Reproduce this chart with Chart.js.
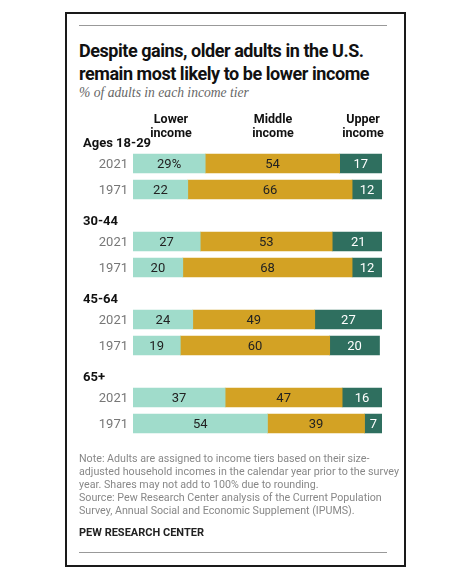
<!DOCTYPE html>
<html>
<head>
<meta charset="utf-8">
<script src="https://cdn.jsdelivr.net/npm/chart.js@4.4.1/dist/chart.umd.min.js"></script>
<style>
  html, body { margin: 0; padding: 0; background: #fff; }
  body { width: 474px; height: 574px; position: relative; overflow: hidden; font-family: Roboto, "Liberation Sans", sans-serif; }
  .frame { position: absolute; left: 65px; top: 12px; width: 337px; height: 551px; border: 2px solid #1a1a1a; }
  .rule { position: absolute; left: 79px; width: 308px; height: 0; border-top: 1px solid #999; }
  .title { position: absolute; left: 79px; top: 38.5px; font-weight: 700; font-size: 18px; letter-spacing: -0.45px; line-height: 23px; color: #111; white-space: nowrap; }
  .sub { position: absolute; left: 79px; top: 85px; font-family: "Liberation Serif", serif; font-style: italic; font-size: 13.6px; color: #666; white-space: nowrap; }
  .note { position: absolute; left: 79px; top: 452px; font-size: 10.7px; line-height: 13px; color: #888; white-space: nowrap; }
  .pew { position: absolute; left: 79px; top: 526px; font-size: 11px; font-weight: 700; color: #222; }
  canvas { position: absolute; left: 0; top: 0; }
</style>
</head>
<body>
<div class="frame"></div>
<div class="rule" style="top:25px"></div>
<div class="title">Despite gains, older adults in the U.S.<br>remain most likely to be lower income</div>
<div class="sub">% of adults in each income tier</div>
<canvas id="incomeChart" width="474" height="574"></canvas>
<div class="note">Note: Adults are assigned to income tiers based on their size-<br>adjusted household incomes in the calendar year prior to the survey<br>year. Shares may not add to 100% due to rounding.<br>Source: Pew Research Center analysis of the Current Population<br>Survey, Annual Social and Economic Supplement (IPUMS).</div>
<div class="pew">PEW RESEARCH CENTER</div>
<div class="rule" style="top:552px"></div>

<script>
const groups = ['Ages 18-29', '30-44', '45-64', '65+'];
const years = ['2021', '1971'];
const tiers = [['Lower', 'income'], ['Middle', 'income'], ['Upper', 'income']];
// one value per bar, order: 18-29 (2021, 1971), 30-44 (2021, 1971), ...
const lower = [29, 22, 27, 20, 24, 19, 37, 54];
const middle = [54, 66, 53, 68, 49, 60, 47, 39];
const upper = [17, 12, 21, 12, 27, 20, 16, 7];
const colors = ['#a0dccb', '#d3a224', '#2f6f5f'];
const textColors = ['#222', '#222', '#fff'];

// each group gets an empty slot on top for its heading
const labels = [];
const rowOf = [];
const headerSlots = [];
groups.forEach((g, gi) => {
  headerSlots.push(labels.length);
  labels.push('');
  rowOf.push(-1);
  years.forEach((y, yi) => {
    labels.push(y);
    rowOf.push(gi * years.length + yi);
  });
});
const spread = arr => rowOf.map(r => (r < 0 ? null : arr[r]));

const labelPlugin = {
  id: 'pewLabels',
  afterDatasetsDraw(chart) {
    const ctx = chart.ctx;
    const yScale = chart.scales.y;
    ctx.save();

    // values inside the bars
    ctx.font = '13px Roboto';
    ctx.textAlign = 'center';
    ctx.textBaseline = 'middle';
    chart.data.datasets.forEach((ds, d) => {
      const meta = chart.getDatasetMeta(d);
      meta.data.forEach((el, i) => {
        const v = ds.data[i];
        if (v == null) return;
        const p = el.getCenterPoint();
        ctx.fillStyle = textColors[d];
        ctx.fillText(v + (d === 0 && i === 1 ? '%' : ''), p.x, p.y + 1);
      });
    });

    // year labels
    ctx.fillStyle = '#777';
    ctx.textAlign = 'right';
    labels.forEach((l, i) => {
      if (l) ctx.fillText(l, 128, yScale.getPixelForValue(i) + 1);
    });

    // group headings
    ctx.fillStyle = '#111';
    ctx.font = 'bold 13px Roboto';
    ctx.textAlign = 'left';
    headerSlots.forEach((s, gi) => {
      ctx.fillText(groups[gi], 83, yScale.getPixelForValue(s) + 6.5);
    });

    // column headers over first bar
    ctx.font = 'bold 12.5px Roboto';
    ctx.textAlign = 'center';
    const top = chart.chartArea.top;
    const headerX = [171, 273, 363];
    tiers.forEach((t, ti) => {
      ctx.fillText(t[0], headerX[ti], top - 5);
      ctx.fillText(t[1], headerX[ti], top + 9);
    });
    ctx.restore();
  }
};

const ctx = document.getElementById('incomeChart').getContext('2d');
new Chart(ctx, {
  type: 'bar',
  data: {
    labels: labels,
    datasets: [
      { label: 'Lower income', data: spread(lower), backgroundColor: colors[0] },
      { label: 'Middle income', data: spread(middle), backgroundColor: colors[1] },
      { label: 'Upper income', data: spread(upper), backgroundColor: colors[2] }
    ]
  },
  options: {
    indexAxis: 'y',
    responsive: false,
    animation: false,
    devicePixelRatio: 1,
    barThickness: 19,
    borderWidth: 0,
    layout: { padding: { left: 133, right: 92, top: 124.5, bottom: 137.5 } },
    scales: {
      x: { stacked: true, min: 0, max: 100, display: false },
      y: { stacked: true, display: false }
    },
    plugins: {
      legend: { display: false },
      tooltip: { enabled: false }
    }
  },
  plugins: [labelPlugin]
});
</script>
</body>
</html>
